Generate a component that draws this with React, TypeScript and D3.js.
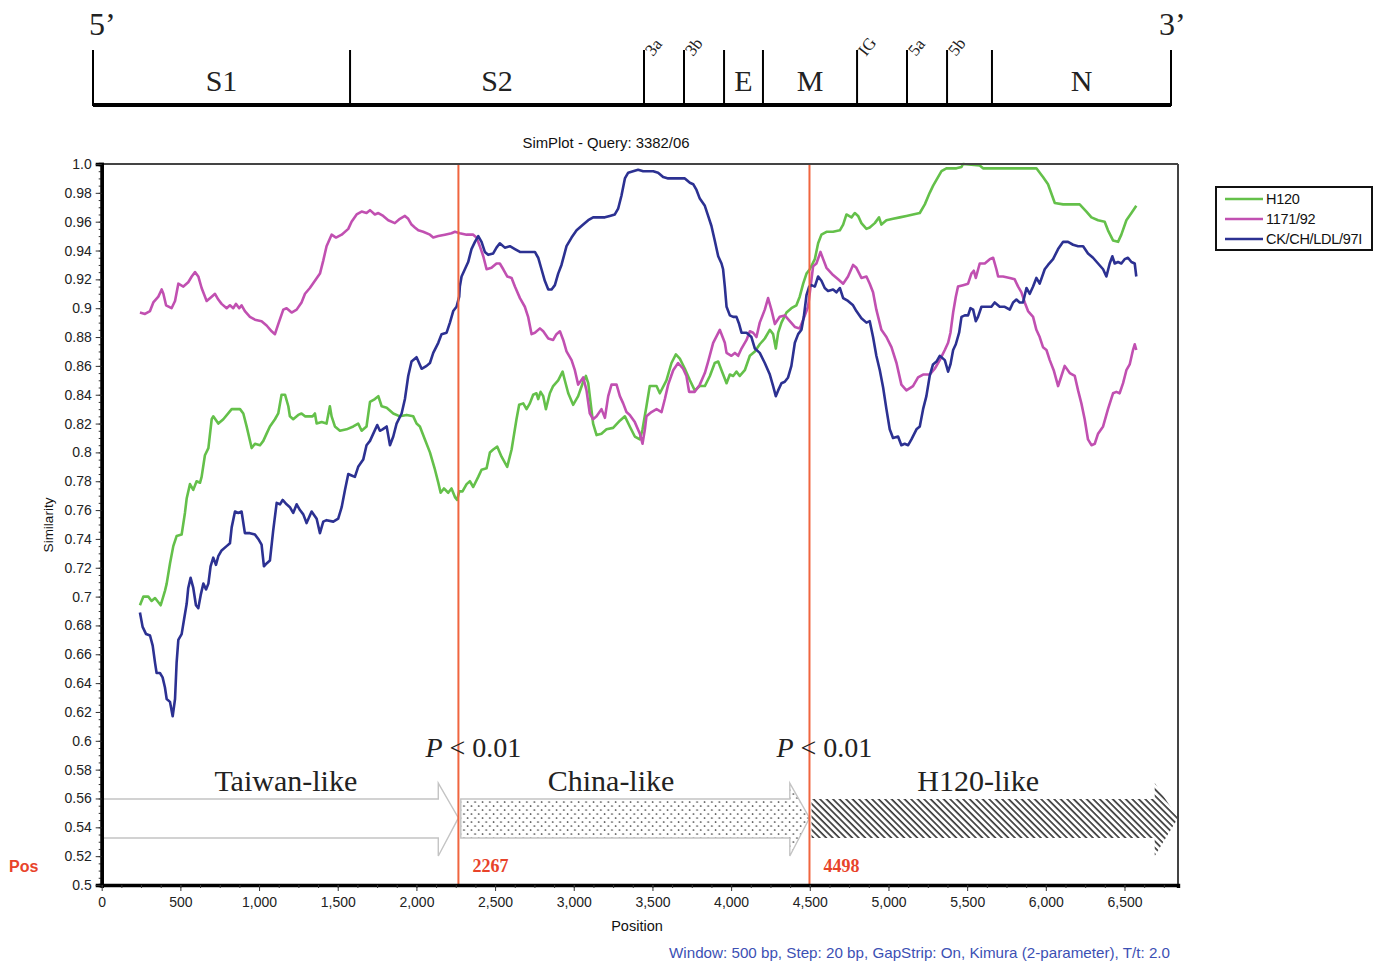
import React, { useEffect, useRef } from 'react'
import * as d3 from 'd3'

const W = 1377
const H = 964

// similarity curves: [position, similarity]
const h120: [number, number][] = [
    [243, 0.694], [265, 0.7], [296, 0.7], [317, 0.697], [339, 0.699], [375, 0.694], [402, 0.704], [413, 0.709],
    [434, 0.723], [455, 0.735], [476, 0.742], [508, 0.743], [529, 0.758], [540, 0.768], [561, 0.778], [582, 0.774],
    [603, 0.78], [625, 0.779], [635, 0.783], [656, 0.798], [678, 0.803], [699, 0.823], [709, 0.825], [741, 0.82],
    [773, 0.823], [826, 0.83], [879, 0.83], [900, 0.827], [921, 0.818], [953, 0.803], [974, 0.806], [1006, 0.805],
    [1027, 0.808], [1048, 0.813], [1069, 0.818], [1101, 0.823], [1122, 0.827], [1143, 0.84], [1165, 0.84],
    [1186, 0.832], [1196, 0.825], [1217, 0.823], [1249, 0.826], [1270, 0.827], [1292, 0.825], [1313, 0.825],
    [1340, 0.825], [1355, 0.827], [1366, 0.82], [1398, 0.821], [1429, 0.82], [1450, 0.832], [1461, 0.825],
    [1482, 0.818], [1514, 0.815], [1556, 0.816], [1599, 0.818], [1630, 0.82], [1652, 0.815], [1683, 0.818],
    [1705, 0.835], [1736, 0.837], [1758, 0.839], [1779, 0.832], [1811, 0.831], [1853, 0.827], [1895, 0.825],
    [1938, 0.826], [1980, 0.825], [2001, 0.82], [2022, 0.818], [2054, 0.809], [2086, 0.8], [2118, 0.788],
    [2139, 0.779], [2154, 0.772], [2175, 0.775], [2202, 0.772], [2223, 0.775], [2245, 0.769], [2259, 0.767],
    [2272, 0.773], [2293, 0.773], [2319, 0.778], [2340, 0.78], [2361, 0.776], [2393, 0.783], [2414, 0.788],
    [2446, 0.789], [2467, 0.8], [2488, 0.802], [2514, 0.804], [2541, 0.797], [2577, 0.79], [2605, 0.802],
    [2636, 0.823], [2653, 0.833], [2679, 0.834], [2700, 0.83], [2721, 0.834], [2742, 0.84], [2763, 0.841],
    [2774, 0.837], [2789, 0.842], [2806, 0.839], [2823, 0.83], [2848, 0.841], [2869, 0.846], [2901, 0.85],
    [2929, 0.856], [2943, 0.85], [2965, 0.841], [2996, 0.833], [3028, 0.839], [3060, 0.849], [3077, 0.853],
    [3092, 0.848], [3123, 0.82], [3145, 0.812], [3176, 0.813], [3208, 0.816], [3250, 0.817], [3293, 0.822],
    [3325, 0.825], [3356, 0.818], [3388, 0.811], [3420, 0.809], [3437, 0.816], [3462, 0.832], [3483, 0.846],
    [3526, 0.846], [3547, 0.841], [3589, 0.85], [3621, 0.862], [3649, 0.868], [3674, 0.865], [3706, 0.858],
    [3738, 0.85], [3769, 0.843], [3801, 0.846], [3833, 0.846], [3865, 0.853], [3896, 0.862], [3918, 0.863],
    [3939, 0.857], [3971, 0.848], [3992, 0.854], [4013, 0.853], [4034, 0.856], [4055, 0.853], [4087, 0.857],
    [4119, 0.867], [4151, 0.87], [4182, 0.875], [4214, 0.879], [4246, 0.885], [4267, 0.882], [4284, 0.872],
    [4299, 0.883], [4320, 0.89], [4352, 0.897], [4383, 0.9], [4415, 0.902], [4436, 0.908], [4458, 0.917],
    [4479, 0.924], [4500, 0.927], [4532, 0.934], [4553, 0.945], [4574, 0.951], [4606, 0.953], [4648, 0.953],
    [4691, 0.954], [4712, 0.958], [4733, 0.965], [4765, 0.963], [4786, 0.966], [4807, 0.964], [4828, 0.959],
    [4860, 0.955], [4881, 0.956], [4913, 0.959], [4940, 0.963], [4955, 0.958], [4987, 0.961], [5029, 0.962],
    [5072, 0.963], [5114, 0.964], [5156, 0.965], [5199, 0.966], [5231, 0.972], [5262, 0.98], [5284, 0.985],
    [5305, 0.989], [5337, 0.995], [5368, 0.997], [5432, 0.997], [5464, 0.998], [5474, 1.0], [5580, 0.999],
    [5601, 0.997], [5686, 0.997], [5813, 0.997], [5940, 0.997], [5982, 0.991], [6014, 0.986], [6057, 0.973],
    [6110, 0.972], [6215, 0.972], [6258, 0.967], [6290, 0.963], [6332, 0.961], [6374, 0.96], [6395, 0.954],
    [6427, 0.947], [6459, 0.946], [6480, 0.951], [6512, 0.961], [6544, 0.966], [6575, 0.971]
]

const s1171: [number, number][] = [
    [243, 0.897], [275, 0.896], [307, 0.898], [328, 0.904], [360, 0.908], [381, 0.913], [392, 0.91], [409, 0.902],
    [444, 0.9], [466, 0.905], [487, 0.917], [519, 0.915], [550, 0.918], [572, 0.922], [593, 0.925], [614, 0.922],
    [635, 0.914], [667, 0.905], [699, 0.908], [720, 0.91], [741, 0.906], [762, 0.903], [794, 0.9], [815, 0.902],
    [836, 0.9], [853, 0.903], [874, 0.9], [889, 0.902], [910, 0.898], [942, 0.894], [974, 0.892], [1016, 0.891],
    [1048, 0.888], [1080, 0.884], [1101, 0.882], [1122, 0.889], [1154, 0.899], [1175, 0.9], [1207, 0.897],
    [1239, 0.899], [1270, 0.904], [1292, 0.91], [1323, 0.914], [1355, 0.919], [1387, 0.924], [1408, 0.933],
    [1429, 0.943], [1461, 0.951], [1489, 0.949], [1525, 0.951], [1567, 0.955], [1588, 0.96], [1620, 0.965],
    [1652, 0.967], [1683, 0.966], [1705, 0.968], [1736, 0.965], [1758, 0.966], [1789, 0.964], [1821, 0.961],
    [1863, 0.959], [1895, 0.962], [1927, 0.964], [1948, 0.962], [1969, 0.958], [1990, 0.956], [2012, 0.954],
    [2043, 0.953], [2086, 0.951], [2107, 0.949], [2139, 0.95], [2181, 0.951], [2223, 0.952], [2245, 0.953],
    [2276, 0.952], [2319, 0.951], [2361, 0.951], [2382, 0.949], [2403, 0.943], [2425, 0.936], [2446, 0.927],
    [2477, 0.928], [2509, 0.931], [2530, 0.931], [2552, 0.927], [2577, 0.922], [2605, 0.921], [2626, 0.915],
    [2658, 0.907], [2689, 0.901], [2710, 0.894], [2732, 0.882], [2753, 0.883], [2785, 0.886], [2806, 0.884],
    [2838, 0.879], [2869, 0.878], [2890, 0.882], [2912, 0.884], [2933, 0.878], [2954, 0.87], [2986, 0.864],
    [3007, 0.857], [3028, 0.847], [3060, 0.852], [3081, 0.843], [3102, 0.827], [3123, 0.823], [3145, 0.825],
    [3176, 0.83], [3198, 0.824], [3219, 0.839], [3240, 0.847], [3272, 0.847], [3293, 0.839], [3314, 0.834],
    [3335, 0.828], [3356, 0.826], [3388, 0.821], [3420, 0.813], [3437, 0.806], [3452, 0.816], [3462, 0.825],
    [3494, 0.828], [3526, 0.83], [3558, 0.828], [3579, 0.837], [3600, 0.847], [3632, 0.857], [3663, 0.862],
    [3695, 0.858], [3716, 0.853], [3733, 0.842], [3769, 0.842], [3801, 0.847], [3833, 0.855], [3854, 0.863],
    [3886, 0.876], [3928, 0.885], [3960, 0.876], [3971, 0.869], [4002, 0.867], [4024, 0.869], [4045, 0.867],
    [4066, 0.872], [4098, 0.878], [4119, 0.884], [4140, 0.883], [4161, 0.88], [4182, 0.89], [4214, 0.899],
    [4235, 0.907], [4256, 0.899], [4278, 0.889], [4309, 0.894], [4341, 0.895], [4373, 0.891], [4405, 0.887],
    [4436, 0.886], [4458, 0.892], [4489, 0.901], [4521, 0.929], [4542, 0.931], [4568, 0.939], [4585, 0.934],
    [4606, 0.928], [4648, 0.923], [4680, 0.92], [4712, 0.917], [4743, 0.922], [4775, 0.93], [4796, 0.928],
    [4828, 0.921], [4860, 0.922], [4881, 0.917], [4902, 0.911], [4923, 0.899], [4955, 0.885], [4987, 0.88],
    [5019, 0.873], [5051, 0.862], [5082, 0.847], [5114, 0.843], [5156, 0.846], [5188, 0.852], [5220, 0.854],
    [5262, 0.854], [5294, 0.858], [5326, 0.864], [5358, 0.871], [5379, 0.876], [5394, 0.883], [5411, 0.897],
    [5428, 0.908], [5442, 0.915], [5474, 0.916], [5506, 0.917], [5527, 0.924], [5542, 0.926], [5555, 0.921],
    [5580, 0.931], [5612, 0.931], [5644, 0.934], [5665, 0.935], [5686, 0.927], [5697, 0.922], [5728, 0.922],
    [5771, 0.921], [5802, 0.92], [5824, 0.915], [5845, 0.911], [5866, 0.904], [5887, 0.898], [5919, 0.894],
    [5940, 0.885], [5961, 0.88], [5982, 0.873], [6004, 0.871], [6025, 0.864], [6050, 0.857], [6078, 0.846],
    [6099, 0.853], [6120, 0.86], [6152, 0.855], [6184, 0.853], [6205, 0.843], [6226, 0.834], [6247, 0.823],
    [6268, 0.809], [6290, 0.805], [6311, 0.806], [6332, 0.813], [6364, 0.818], [6395, 0.83], [6427, 0.841],
    [6448, 0.842], [6469, 0.841], [6491, 0.848], [6512, 0.857], [6533, 0.861], [6554, 0.871], [6565, 0.875],
    [6575, 0.871]
]

const ckch: [number, number][] = [
    [243, 0.689], [260, 0.679], [282, 0.674], [307, 0.673], [324, 0.666], [339, 0.654], [349, 0.647], [370, 0.647],
    [387, 0.644], [402, 0.637], [413, 0.629], [434, 0.627], [451, 0.617], [466, 0.629], [476, 0.654], [487, 0.67],
    [508, 0.674], [523, 0.684], [540, 0.695], [550, 0.706], [565, 0.713], [582, 0.706], [599, 0.694], [614, 0.692],
    [629, 0.701], [646, 0.709], [663, 0.705], [678, 0.709], [692, 0.721], [709, 0.727], [726, 0.722], [741, 0.728],
    [762, 0.732], [794, 0.735], [815, 0.737], [826, 0.748], [847, 0.759], [868, 0.758], [889, 0.759], [910, 0.744],
    [942, 0.744], [974, 0.743], [995, 0.74], [1016, 0.736], [1031, 0.721], [1048, 0.723], [1069, 0.725],
    [1090, 0.746], [1112, 0.765], [1133, 0.764], [1150, 0.767], [1175, 0.764], [1196, 0.762], [1217, 0.758],
    [1239, 0.764], [1260, 0.76], [1281, 0.757], [1302, 0.751], [1334, 0.759], [1366, 0.754], [1387, 0.744],
    [1408, 0.752], [1429, 0.753], [1472, 0.752], [1503, 0.754], [1525, 0.762], [1546, 0.774], [1567, 0.785],
    [1588, 0.784], [1609, 0.783], [1630, 0.79], [1662, 0.795], [1683, 0.805], [1705, 0.808], [1726, 0.813],
    [1751, 0.819], [1768, 0.815], [1785, 0.816], [1811, 0.818], [1832, 0.805], [1853, 0.811], [1874, 0.82],
    [1906, 0.827], [1927, 0.837], [1948, 0.853], [1969, 0.863], [2001, 0.866], [2033, 0.858], [2065, 0.86],
    [2086, 0.862], [2107, 0.869], [2139, 0.876], [2160, 0.882], [2192, 0.883], [2213, 0.89], [2234, 0.898],
    [2255, 0.901], [2272, 0.908], [2276, 0.915], [2287, 0.922], [2308, 0.927], [2329, 0.932], [2350, 0.941],
    [2372, 0.946], [2393, 0.95], [2414, 0.946], [2435, 0.939], [2456, 0.937], [2488, 0.938], [2509, 0.942],
    [2530, 0.945], [2562, 0.942], [2594, 0.943], [2626, 0.941], [2658, 0.939], [2700, 0.939], [2753, 0.939],
    [2774, 0.935], [2795, 0.927], [2816, 0.919], [2838, 0.913], [2859, 0.913], [2880, 0.916], [2901, 0.924],
    [2922, 0.93], [2954, 0.943], [2986, 0.949], [3018, 0.954], [3060, 0.958], [3092, 0.961], [3123, 0.963],
    [3155, 0.963], [3198, 0.963], [3229, 0.964], [3261, 0.965], [3282, 0.969], [3303, 0.978], [3325, 0.99],
    [3346, 0.994], [3377, 0.995], [3409, 0.996], [3441, 0.995], [3505, 0.995], [3536, 0.994], [3568, 0.991],
    [3600, 0.99], [3632, 0.99], [3706, 0.99], [3738, 0.987], [3759, 0.986], [3780, 0.982], [3801, 0.976],
    [3833, 0.971], [3854, 0.964], [3875, 0.957], [3896, 0.947], [3918, 0.936], [3939, 0.931], [3949, 0.927],
    [3960, 0.915], [3971, 0.901], [3992, 0.895], [4013, 0.894], [4034, 0.894], [4051, 0.889], [4066, 0.883],
    [4098, 0.883], [4129, 0.88], [4151, 0.872], [4182, 0.869], [4214, 0.862], [4246, 0.854], [4267, 0.846],
    [4284, 0.839], [4299, 0.843], [4320, 0.848], [4341, 0.849], [4362, 0.852], [4383, 0.86], [4405, 0.876],
    [4426, 0.882], [4447, 0.885], [4462, 0.894], [4479, 0.909], [4496, 0.915], [4511, 0.916], [4532, 0.915],
    [4553, 0.922], [4574, 0.919], [4595, 0.914], [4616, 0.912], [4648, 0.913], [4669, 0.911], [4691, 0.914],
    [4712, 0.907], [4743, 0.905], [4775, 0.902], [4796, 0.898], [4828, 0.893], [4860, 0.89], [4881, 0.891],
    [4902, 0.88], [4923, 0.867], [4945, 0.857], [4966, 0.845], [4987, 0.83], [5008, 0.816], [5029, 0.81],
    [5061, 0.811], [5082, 0.805], [5103, 0.806], [5125, 0.805], [5146, 0.809], [5178, 0.816], [5199, 0.818],
    [5220, 0.83], [5241, 0.839], [5262, 0.853], [5283, 0.861], [5305, 0.863], [5326, 0.867], [5358, 0.864],
    [5379, 0.856], [5394, 0.861], [5411, 0.871], [5428, 0.875], [5449, 0.883], [5464, 0.894], [5485, 0.895],
    [5506, 0.895], [5521, 0.9], [5538, 0.899], [5555, 0.891], [5569, 0.894], [5591, 0.901], [5622, 0.901],
    [5654, 0.901], [5675, 0.904], [5707, 0.901], [5739, 0.901], [5771, 0.899], [5792, 0.904], [5813, 0.906],
    [5834, 0.904], [5855, 0.904], [5877, 0.914], [5898, 0.91], [5919, 0.915], [5940, 0.921], [5961, 0.917],
    [5993, 0.927], [6014, 0.93], [6046, 0.934], [6078, 0.941], [6110, 0.946], [6141, 0.946], [6173, 0.944],
    [6205, 0.943], [6237, 0.943], [6268, 0.938], [6300, 0.935], [6332, 0.931], [6364, 0.927], [6385, 0.922],
    [6406, 0.931], [6423, 0.936], [6438, 0.931], [6459, 0.932], [6480, 0.931], [6501, 0.934], [6522, 0.935],
    [6544, 0.932], [6565, 0.931], [6575, 0.922]
]

const seriesNames = ['H120', '1171/92', 'CK/CH/LDL/97I']
const seriesColors = ['#64c04a', '#c150b1', '#2c3192']
const seriesData = [h120, s1171, ckch]

const alignLength = 6840
const breakpoints = [2267, 4498]

// genome map (nt positions of each ORF start)
const geneNames = ['S1', 'S2', '3a', '3b', 'E', 'M', 'IG', '5a', '5b', 'N']
const geneStarts = [0, 1631, 3496, 3750, 4004, 4251, 4848, 5165, 5419, 5704]
const smallGenes = ['3a', '3b', 'IG', '5a', '5b']

// recombinant regions: start, head base, tip (nt)
const regionNames = ['Taiwan-like', 'China-like', 'H120-like']
const regionStarts = [0, 2282, 4511]
const regionHeads = [2139, 4373, 6692]
const regionTips = [2267, 4498, 6840]
const regionLabelPos = [1170, 3237, 5570]
const regionFills = ['#ffffff', 'url(#dots)', 'url(#hatch)']

const sans = '"Liberation Sans", Arial, sans-serif'
const serif = '"Liberation Serif", "Times New Roman", serif'

export default function App() {
    const ref = useRef<SVGSVGElement>(null)

    useEffect(() => {
        const svg = d3.select(ref.current)
        svg.selectAll('*').remove()

        const x = d3.scaleLinear().domain([0, alignLength]).range([101.7, 1178])
        const y = d3.scaleLinear().domain([0.5, 1]).range([885, 164])
        const gx = d3.scaleLinear().domain([0, alignLength]).range([93, 1171])

        const defs = svg.append('defs')
        const dots = defs.append('pattern').attr('id', 'dots')
            .attr('patternUnits', 'userSpaceOnUse').attr('width', 7.4).attr('height', 8)
        dots.append('rect').attr('width', 7.4).attr('height', 8).attr('fill', '#fff')
        dots.append('circle').attr('cx', 1.5).attr('cy', 2).attr('r', 0.85).attr('fill', '#333')
        dots.append('circle').attr('cx', 5.2).attr('cy', 6).attr('r', 0.85).attr('fill', '#333')
        const hatch = defs.append('pattern').attr('id', 'hatch')
            .attr('patternUnits', 'userSpaceOnUse').attr('width', 4.6).attr('height', 4.6)
            .attr('patternTransform', 'rotate(-45)')
        hatch.append('rect').attr('width', 4.6).attr('height', 4.6).attr('fill', '#fff')
        hatch.append('line').attr('x1', 1).attr('y1', 0).attr('x2', 1).attr('y2', 4.6)
            .attr('stroke', '#3a3a3a').attr('stroke-width', 1.7)

        // ---- genome map
        const gm = svg.append('g')
        gm.append('line').attr('x1', gx(0)).attr('x2', gx(alignLength))
            .attr('y1', 105).attr('y2', 105).attr('stroke', '#000').attr('stroke-width', 4)
        gm.selectAll('line.b').data([...geneStarts, alignLength]).join('line').attr('class', 'b')
            .attr('x1', d => gx(d)).attr('x2', d => gx(d)).attr('y1', 50).attr('y2', 106)
            .attr('stroke', '#000').attr('stroke-width', 2)
        geneNames.forEach((g, i) => {
            const a = geneStarts[i]
            const b = i + 1 < geneStarts.length ? geneStarts[i + 1] : alignLength
            if (smallGenes.includes(g)) {
                const tx = gx(a) + 9
                gm.append('text').attr('transform', `translate(${tx},57) rotate(-52)`)
                    .attr('font-family', serif).attr('font-size', 17).attr('fill', '#222').text(g)
            } else {
                gm.append('text').attr('x', gx((a + b) / 2)).attr('y', 91).attr('text-anchor', 'middle')
                    .attr('font-family', serif).attr('font-size', 30).attr('fill', '#222').text(g)
            }
        })
        gm.append('text').attr('x', 89).attr('y', 35).attr('font-family', serif).attr('font-size', 32)
            .attr('fill', '#222').text('5’')
        gm.append('text').attr('x', 1159).attr('y', 35).attr('font-family', serif).attr('font-size', 32)
            .attr('fill', '#222').text('3’')

        // ---- title
        svg.append('text').attr('x', 606).attr('y', 148).attr('text-anchor', 'middle')
            .attr('font-family', sans).attr('font-size', 15).attr('fill', '#111')
            .attr('textLength', 167).attr('lengthAdjust', 'spacingAndGlyphs')
            .text('SimPlot - Query: 3382/06')

        // ---- region arrows
        const arrows = svg.append('g')
        const bodyTop = 0.5596, bodyBot = 0.5326, headTop = 0.5707, headBot = 0.5201, tipY = 0.5465
        regionNames.forEach((name, i) => {
            const p = d3.path()
            p.moveTo(x(regionStarts[i]), y(bodyTop))
            p.lineTo(x(regionHeads[i]), y(bodyTop))
            p.lineTo(x(regionHeads[i]), y(headTop))
            p.lineTo(x(regionTips[i]), y(tipY))
            p.lineTo(x(regionHeads[i]), y(headBot))
            p.lineTo(x(regionHeads[i]), y(bodyBot))
            p.lineTo(x(regionStarts[i]), y(bodyBot))
            p.closePath()
            arrows.append('path').attr('d', p.toString()).attr('fill', regionFills[i])
                .attr('stroke', i === 2 ? 'none' : '#c4c4c4').attr('stroke-width', 1.4)
            arrows.append('text').attr('x', x(regionLabelPos[i])).attr('y', y(0.565))
                .attr('text-anchor', 'middle').attr('font-family', serif).attr('font-size', 30)
                .attr('fill', '#222').text(name)
        })

        // ---- similarity lines
        const line = d3.line<[number, number]>().x(d => x(d[0])).y(d => y(d[1]))
        seriesData.forEach((s, i) => {
            svg.append('path').attr('d', line(s)).attr('fill', 'none')
                .attr('stroke', seriesColors[i]).attr('stroke-width', 2.6)
                .attr('stroke-linejoin', 'round')
        })

        // ---- breakpoints
        breakpoints.forEach(bp => {
            svg.append('line').attr('x1', x(bp)).attr('x2', x(bp)).attr('y1', y(1)).attr('y2', y(0.5))
                .attr('stroke', '#f0653f').attr('stroke-width', 2)
            const t = svg.append('text').attr('x', x(bp) - 33).attr('y', 757)
                .attr('font-family', serif).attr('font-size', 28).attr('fill', '#222')
            t.append('tspan').attr('font-style', 'italic').text('P')
            t.append('tspan').text(' < 0.01')
            svg.append('text').attr('x', x(bp) + 14).attr('y', 872)
                .attr('font-family', serif).attr('font-weight', 'bold').attr('font-size', 18)
                .attr('fill', '#e8432a').text(String(bp))
        })
        svg.append('text').attr('x', 9).attr('y', 872).attr('font-family', sans).attr('font-weight', 'bold')
            .attr('font-size', 16).attr('fill', '#e8432a').text('Pos')

        // ---- frame and axes
        svg.append('line').attr('x1', x(0)).attr('x2', x(alignLength)).attr('y1', y(1)).attr('y2', y(1))
            .attr('stroke', '#444').attr('stroke-width', 2)
        svg.append('line').attr('x1', x(alignLength)).attr('x2', x(alignLength)).attr('y1', y(1)).attr('y2', y(0.5))
            .attr('stroke', '#444').attr('stroke-width', 2)

        const yMajor = d3.range(26).map(i => +(0.5 + i * 0.02).toFixed(2))
        const yMinor = d3.range(101).map(i => 0.5 + i * 0.005)
        const yFmt = (v: number) => (v === 1 ? '1.0' : String(v))
        const ya = svg.append('g').attr('transform', `translate(${x(0)},0)`)
        ya.call(d3.axisLeft(y).tickValues(yMinor).tickSize(3).tickFormat(() => ''))
        ya.append('g').call(d3.axisLeft(y).tickValues(yMajor).tickSize(6).tickPadding(4).tickFormat(yFmt as any))
        ya.selectAll('path.domain').attr('stroke', '#000').attr('stroke-width', 3.4)
        ya.selectAll('.tick line').attr('stroke', '#333')
        ya.selectAll('text').attr('font-family', sans).attr('font-size', 14).attr('fill', '#222')

        const xMajor = d3.range(0, 6501, 500)
        const xMinor = d3.range(0, alignLength, 125)
        const xa = svg.append('g').attr('transform', `translate(0,${y(0.5)})`)
        xa.call(d3.axisBottom(x).tickValues(xMinor).tickSize(3).tickFormat(() => ''))
        xa.append('g').call(d3.axisBottom(x).tickValues(xMajor).tickSize(6).tickPadding(6)
            .tickFormat(d3.format(',') as any))
        xa.selectAll('path.domain').attr('stroke', '#000').attr('stroke-width', 3.4)
        xa.selectAll('.tick line').attr('stroke', '#333')
        xa.selectAll('text').attr('font-family', sans).attr('font-size', 14).attr('fill', '#222')
        xa.selectAll('g > g path.domain').remove()

        svg.append('text').attr('transform', 'translate(53,525) rotate(-90)').attr('text-anchor', 'middle')
            .attr('font-family', sans).attr('font-size', 13.5).attr('fill', '#111').text('Similarity')
        svg.append('text').attr('x', 637).attr('y', 931).attr('text-anchor', 'middle')
            .attr('font-family', sans).attr('font-size', 14.5).attr('fill', '#111').text('Position')
        svg.append('text').attr('x', 669).attr('y', 958)
            .attr('font-family', sans).attr('font-size', 15).attr('fill', '#3c50b4')
            .attr('textLength', 501).attr('lengthAdjust', 'spacingAndGlyphs')
            .text('Window: 500 bp, Step: 20 bp, GapStrip: On, Kimura (2-parameter), T/t: 2.0')

        // ---- legend
        const lg = svg.append('g').attr('transform', 'translate(1216,187)')
        lg.append('rect').attr('width', 156).attr('height', 63).attr('fill', '#fff')
            .attr('stroke', '#111').attr('stroke-width', 2)
        seriesNames.forEach((n, i) => {
            lg.append('line').attr('x1', 9).attr('x2', 47).attr('y1', 12 + i * 20).attr('y2', 12 + i * 20)
                .attr('stroke', seriesColors[i]).attr('stroke-width', 2.6)
            lg.append('text').attr('x', 50).attr('y', 17 + i * 20).attr('font-family', sans)
                .attr('font-size', 14.5).attr('letter-spacing', -0.3).attr('fill', '#111').text(n)
        })
    }, [])

    return (
        <div style={{ position: 'absolute', left: 0, top: 0 }}>
            <svg ref={ref} width={W} height={H} style={{ display: 'block', background: '#fff' }} />
        </div>
    )
}
